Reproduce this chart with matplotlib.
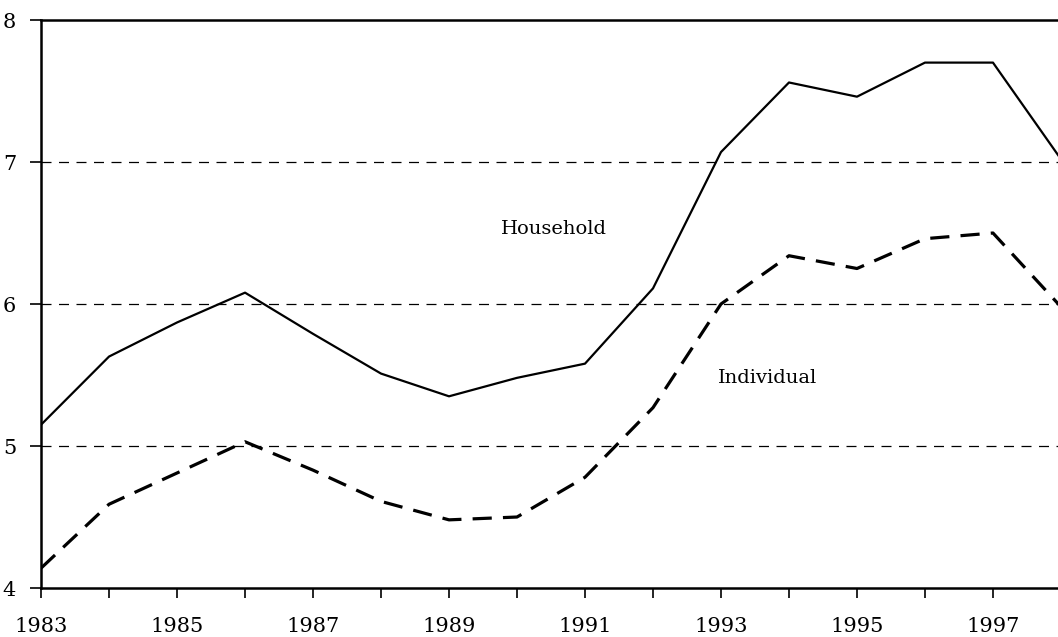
import matplotlib
matplotlib.use("Agg")
import matplotlib.pyplot as plt

# Datos
years = list(range(1983, 1999))
household = [5.15, 5.63, 5.87, 6.08, 5.79, 5.51, 5.35, 5.48, 5.58, 6.11,
             7.07, 7.56, 7.46, 7.70, 7.70, 7.02]
individual = [4.14, 4.59, 4.81, 5.03, 4.83, 4.61, 4.48, 4.50, 4.78, 5.27,
              6.00, 6.34, 6.25, 6.46, 6.50, 5.98]
year_labels = [str(y) for y in range(1983, 1999, 2)]
y_ticks = [4, 5, 6, 7, 8]

plt.rcParams['font.family'] = ['DejaVu Serif']

fig = plt.figure(figsize=(10.58, 6.37), dpi=100)
ax = fig.add_axes([0.0388, 0.0769, 0.964, 0.8917])

# lineas de referencia
for v in [5, 6, 7]:
    ax.axhline(v, color='black', lw=0.9, dashes=(8, 6), zorder=1)

ax.plot(years, household, color='black', lw=1.6, zorder=3)
ax.plot(years, individual, color='black', lw=2.3, dashes=(6, 3.5), zorder=3)

ax.text(1990.55, 6.53, 'Household', fontsize=14, ha='center', va='center')
ax.text(1993.69, 5.48, 'Individual', fontsize=14, ha='center', va='center')

ax.set_xlim(1983, 1998)
ax.set_ylim(4, 8)
ax.set_xticks(years)
ax.set_xticklabels([str(y) if str(y) in year_labels else '' for y in years])
ax.set_yticks(y_ticks)
ax.tick_params(axis='x', direction='out', length=7, width=1.2, pad=14, labelsize=15)
ax.tick_params(axis='y', direction='out', length=8, width=1.2, pad=10, labelsize=15)

for s in ['left', 'bottom', 'top', 'right']:
    ax.spines[s].set_linewidth(1.8)
    ax.spines[s].set_color('black')

fig.savefig('out.png', dpi=100)
